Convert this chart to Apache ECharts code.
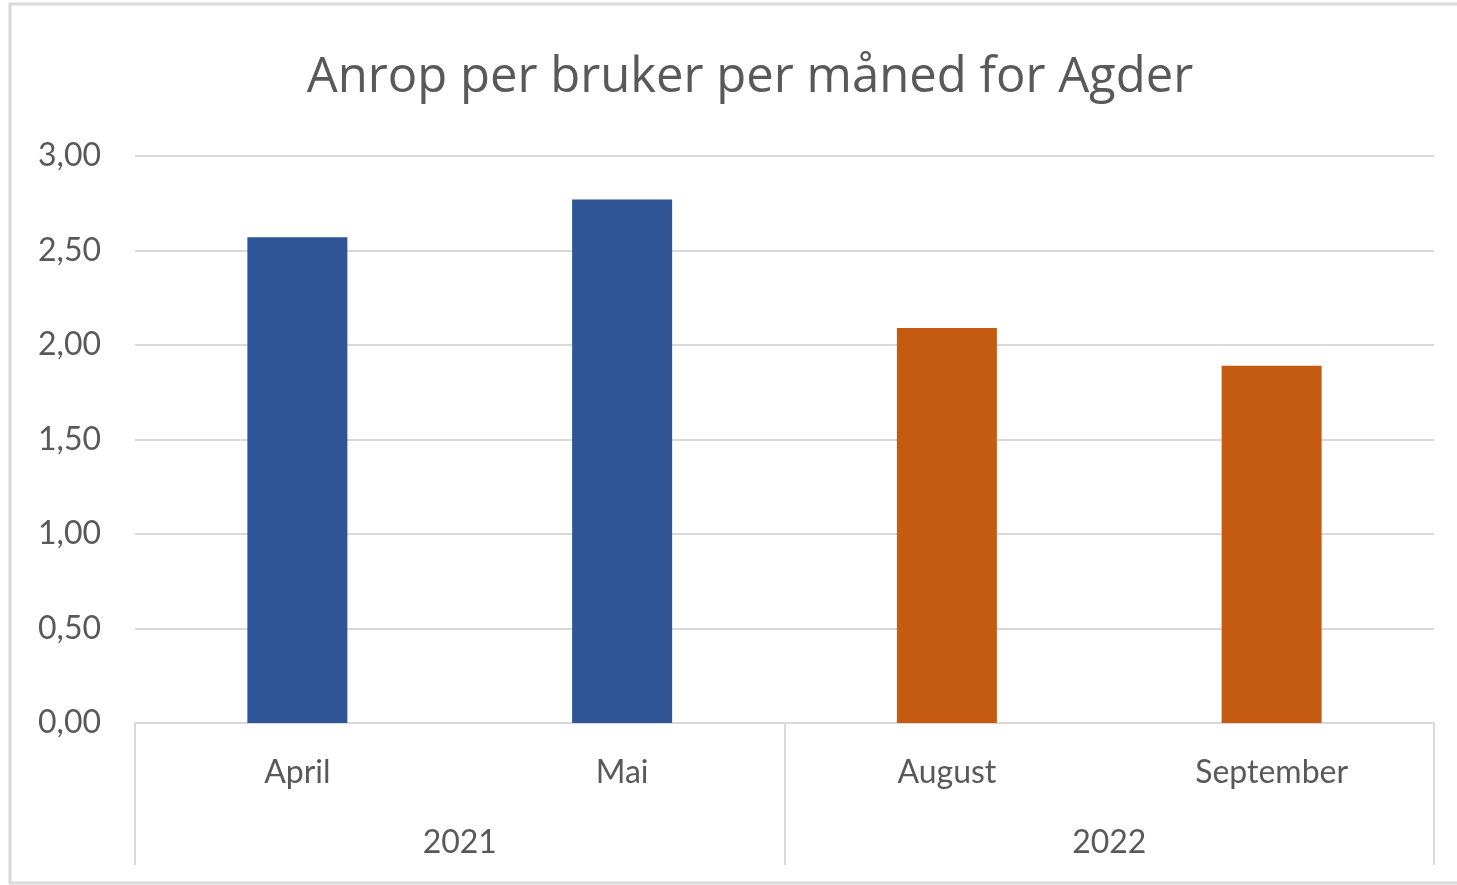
<!DOCTYPE html>
<html>
<head>
<meta charset="utf-8">
<script src="https://cdn.jsdelivr.net/npm/echarts@6/dist/echarts.min.js"></script>
<style>
  html, body { margin: 0; padding: 0; background: #fff; }
  #main { width: 1457px; height: 885px; }
</style>
</head>
<body>
<div id="main"></div>
<script>
// chart data
const months = ['April', 'Mai', 'August', 'September']
const years = ['2021', '2022']
const values = [2.57, 2.77, 2.09, 1.89]
const barColors = ['#2F5597', '#2F5597', '#C55A11', '#C55A11']
const yTicks = [0, 0.5, 1, 1.5, 2, 2.5, 3]

let chart = echarts.init(document.getElementById('main'))
const textColor = '#595959'
const lineColor = '#D9D9D9'
const labelFont = 'Lato, "Open Sans", sans-serif'

let option = {
  animation: false,
  backgroundColor: '#fff',
  title: {
    text: 'Anrop per bruker per måned for Agder',
    left: 745,
    top: 49,
    textAlign: 'center',
    textStyle: {
      color: textColor,
      fontFamily: '"Open Sans", sans-serif',
      fontWeight: 'normal',
      fontSize: 49
    }
  },
  graphic: [{
    type: 'rect',
    shape: { x: 10, y: 4, width: 1460, height: 879 },
    style: { fill: 'none', stroke: lineColor, lineWidth: 3 },
    z: -1
  }],
  grid: { left: 135, right: 23, top: 156, bottom: 162 },
  xAxis: [{
    type: 'category',
    data: months,
    position: 'bottom',
    axisLine: { lineStyle: { color: lineColor, width: 2 } },
    axisTick: { show: false },
    axisLabel: { color: textColor, fontFamily: labelFont, fontSize: 32, margin: 34 }
  }, {
    type: 'category',
    data: years,
    position: 'bottom',
    axisLine: { lineStyle: { color: lineColor, width: 2 } },
    axisTick: { show: true, length: 142, lineStyle: { color: lineColor, width: 2 } },
    axisLabel: { color: textColor, fontFamily: labelFont, fontSize: 32, margin: 104 }
  }],
  yAxis: {
    type: 'value',
    min: yTicks[0],
    max: yTicks[yTicks.length - 1],
    interval: 0.5,
    axisLine: { show: false },
    axisTick: { show: false },
    splitLine: { lineStyle: { color: lineColor, width: 2 } },
    axisLabel: {
      color: textColor,
      fontFamily: labelFont,
      fontSize: 32,
      margin: 34,
      formatter: (v) => v.toFixed(2).replace('.', ',')
    }
  },
  series: [{
    type: 'bar',
    xAxisIndex: 0,
    barWidth: 100,
    data: values.map((v, i) => ({ value: v, itemStyle: { color: barColors[i] } }))
  }]
}

chart.setOption(option)
</script>
</body>
</html>
